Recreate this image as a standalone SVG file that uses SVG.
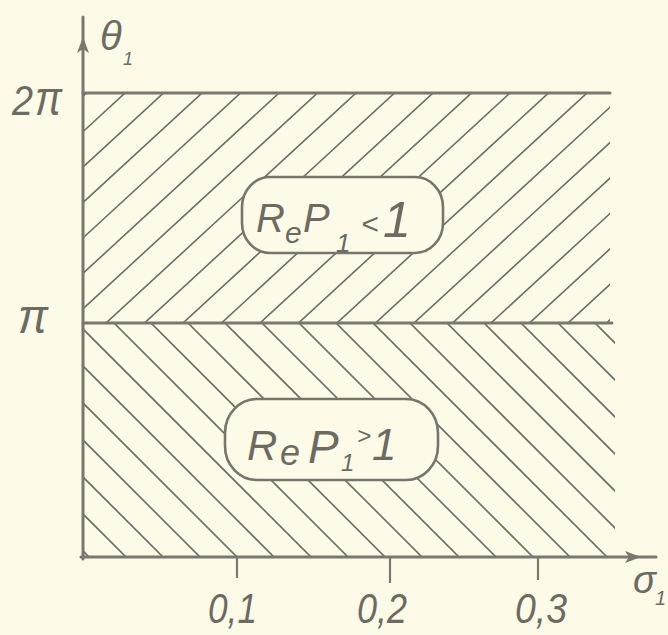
<svg xmlns="http://www.w3.org/2000/svg" width="668" height="635" viewBox="0 0 668 635">
<style>
.ax{stroke:#7a776e;stroke-width:3;fill:none;stroke-linecap:round}
.tick{stroke:#7a776e;stroke-width:2.2;fill:none}
.hat{stroke:#6f6c64;stroke-width:1.6;fill:none}
.box{fill:#fdfbe8;stroke:#77746b;stroke-width:2.6}
.t{font-family:"Liberation Sans",Arial,sans-serif;font-style:italic;fill:#6d6a62}
.arr{fill:#7a776e}
</style>
<defs>
<clipPath id="cTop"><rect x="84" y="94" width="526" height="228"/></clipPath>
<clipPath id="cBot"><rect x="84" y="324" width="531" height="232"/></clipPath>
</defs>
<rect width="668" height="635" fill="#fdfbe8"/>
<g id="hatching">
<path class="hat" clip-path="url(#cTop)" d="M86.5,93l-250,230 M125,93l-250,230 M163.5,93l-250,230 M202,93l-250,230 M240.5,93l-250,230 M279,93l-250,230 M317.5,93l-250,230 M356,93l-250,230 M394.5,93l-250,230 M433,93l-250,230 M471.5,93l-250,230 M510,93l-250,230 M548.5,93l-250,230 M587,93l-250,230 M625.5,93l-250,230 M664,93l-250,230 M702.5,93l-250,230 M741,93l-250,230 M779.5,93l-250,230 M818,93l-250,230 M856.5,93l-250,230"/>
<path class="hat" clip-path="url(#cBot)" d="M89,557l-234,-234 M126,557l-234,-234 M163,557l-234,-234 M200,557l-234,-234 M237,557l-234,-234 M274,557l-234,-234 M311,557l-234,-234 M348,557l-234,-234 M385,557l-234,-234 M422,557l-234,-234 M459,557l-234,-234 M496,557l-234,-234 M533,557l-234,-234 M570,557l-234,-234 M607,557l-234,-234 M644,557l-234,-234 M681,557l-234,-234 M718,557l-234,-234 M755,557l-234,-234 M792,557l-234,-234 M829,557l-234,-234"/>
</g>
<g id="connectors">
<line class="ax" x1="83" y1="17" x2="83" y2="559"/>
<polygon class="arr" points="83,37 77,53 83,49 89,53"/>
<line class="ax" x1="81" y1="557" x2="656" y2="557"/>
<polygon class="arr" points="641,557 625,551 629,557 625,563"/>
<line class="ax" x1="83" y1="93" x2="610" y2="93"/>
<line class="ax" x1="83" y1="323" x2="612" y2="323"/>
<line class="tick" x1="237" y1="557" x2="237" y2="578"/>
<line class="tick" x1="390" y1="557" x2="390" y2="583"/>
<line class="tick" x1="538" y1="557" x2="538" y2="580"/>
</g>
<g id="axis-labels">
<text class="t"><tspan x="100" y="50" font-size="40">θ</tspan><tspan x="123" y="65" font-size="18">1</tspan></text>
<text class="t"><tspan x="633" y="593" font-size="38">σ</tspan><tspan x="655" y="605" font-size="20">1</tspan></text>
<text class="t" x="12" y="115" font-size="42" textLength="21" lengthAdjust="spacingAndGlyphs">2</text>
<text class="t" x="35" y="115" font-size="48" textLength="27" lengthAdjust="spacingAndGlyphs">π</text>
<text class="t" x="18" y="333" font-size="48" textLength="30" lengthAdjust="spacingAndGlyphs">π</text>
<text class="t" x="208" y="623" font-size="42" textLength="49" lengthAdjust="spacingAndGlyphs">0,1</text>
<text class="t" x="357" y="623" font-size="42" textLength="50" lengthAdjust="spacingAndGlyphs">0,2</text>
<text class="t" x="515" y="623" font-size="42" textLength="52" lengthAdjust="spacingAndGlyphs">0,3</text>
</g>
<g id="node-top">
<rect class="box" x="242" y="177" width="201" height="76" rx="28" ry="30"/>
<text class="t"><tspan x="256" y="232" font-size="40">R</tspan><tspan x="285" y="243" font-size="30">e</tspan><tspan x="303" y="232" font-size="40">P</tspan><tspan x="336" y="252" font-size="26">1</tspan><tspan x="361" y="234" font-size="30">&lt;</tspan><tspan x="383" y="237" font-size="50">1</tspan></text>
</g>
<g id="node-bottom">
<rect class="box" x="225" y="399" width="213" height="81" rx="32" ry="34"/>
<text class="t"><tspan x="247" y="460" font-size="42">R</tspan><tspan x="280" y="465" font-size="36">e</tspan><tspan x="308" y="463" font-size="46">P</tspan><tspan x="341" y="471" font-size="24">1</tspan><tspan x="357" y="444" font-size="24">&gt;</tspan><tspan x="372" y="460" font-size="44">1</tspan></text>
</g>
</svg>
